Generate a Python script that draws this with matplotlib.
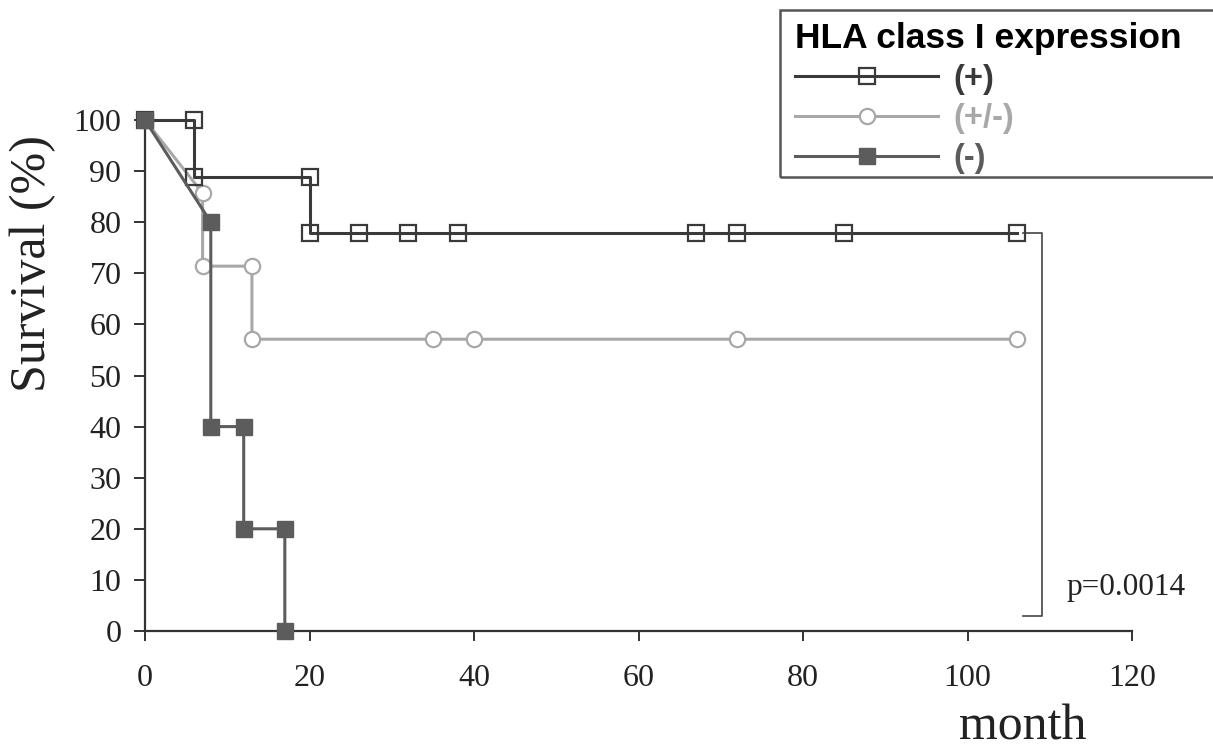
import matplotlib.pyplot as plt
from matplotlib.patches import Rectangle

# survival curves, month vs %
plus_x = [0, 6, 6, 20, 20, 26, 32, 38, 67, 72, 85, 106]
plus_y = [100, 100, 88.9, 88.9, 77.8, 77.8, 77.8, 77.8, 77.8, 77.8, 77.8, 77.8]

pm_x = [0, 7, 7, 13, 13, 35, 40, 72, 106]
pm_y = [100, 85.7, 71.4, 71.4, 57.1, 57.1, 57.1, 57.1, 57.1]

minus_x = [0, 8, 8, 12, 12, 17, 17]
minus_y = [100, 80, 40, 40, 20, 20, 0]

bracket_x = [106.7, 109, 109, 106.7]
bracket_y = [77.8, 77.8, 3.0, 3.0]

xticks = [0, 20, 40, 60, 80, 100, 120]
yticks = [0, 10, 20, 30, 40, 50, 60, 70, 80, 90, 100]
labels = ["(+)", "(+/-)", "(-)"]
colors = ["#3a3a3a", "#a8a8a8", "#5c5c5c"]

serif = "Liberation Serif"
sans = "Liberation Sans"

fig = plt.figure(figsize=(12.13, 7.51), dpi=100)
ax = fig.add_axes([145 / 1213, 1 - 631 / 751, (1132 - 145) / 1213, (631 - 120) / 751])

l2, = ax.plot(pm_x, pm_y, color=colors[1], lw=2.2, marker="o", ms=11,
              mfc="white", mec=colors[1], mew=1.6, clip_on=False, zorder=3)
l1, = ax.plot(plus_x, plus_y, color=colors[0], lw=2.2, marker="s", ms=12,
              mfc="none", mec=colors[0], mew=1.6, clip_on=False, zorder=4)
l3, = ax.plot(minus_x, minus_y, color=colors[2], lw=2.2, marker="s", ms=11.5,
              mfc=colors[2], mec=colors[2], clip_on=False, zorder=5)

ax.plot(bracket_x, bracket_y, color="#444444", lw=1.2, clip_on=False)
ax.text(112, 7, "p=0.0014", family=serif, fontsize=22.5, color="#222222", va="baseline")

ax.set_xlim(0, 120)
ax.set_ylim(0, 100)
ax.set_xticks(xticks)
ax.set_yticks(yticks)
for s in ["top", "right"]:
    ax.spines[s].set_visible(False)
for s in ["left", "bottom"]:
    ax.spines[s].set_linewidth(1.6)
    ax.spines[s].set_color("#333333")
ax.tick_params(axis="y", direction="out", length=8, width=1.4, color="#333333", pad=9)
ax.tick_params(axis="x", direction="out", length=7, width=1.4, color="#333333", pad=17)
for t in ax.get_xticklabels() + ax.get_yticklabels():
    t.set_family(serif)
    t.set_fontsize(23)
    t.set_color("#222222")

fig.text(33 / 1213, 1 - 264 / 751, "Survival (%)", family=serif, fontsize=36,
         rotation=90, ha="center", va="center", color="#222222")
fig.text(1023 / 1213, 1 - 739 / 751, "month", family=serif, fontsize=36,
         ha="center", va="baseline", color="#222222")

# legend box, runs off the right edge
fig.patches.append(Rectangle((780 / 1213, 1 - 177 / 751), 500 / 1213, 167 / 751,
                             transform=fig.transFigure, fill=False,
                             edgecolor="#555555", lw=1.8))
leg = fig.legend([l1, l2, l3], labels, loc="upper left",
                 bbox_to_anchor=(772 / 1213, 1 + 1 / 751), frameon=False,
                 title="HLA class I expression",
                 title_fontproperties={"family": sans, "weight": "bold", "size": 25.5},
                 prop={"family": sans, "weight": "bold", "size": 23.5},
                 handlelength=4.4, handletextpad=0.45, labelspacing=0.27,
                 borderpad=0.2, alignment="left")
for t, c in zip(leg.get_texts(), colors):
    t.set_color(c)

fig.savefig("out.png", dpi=100)
